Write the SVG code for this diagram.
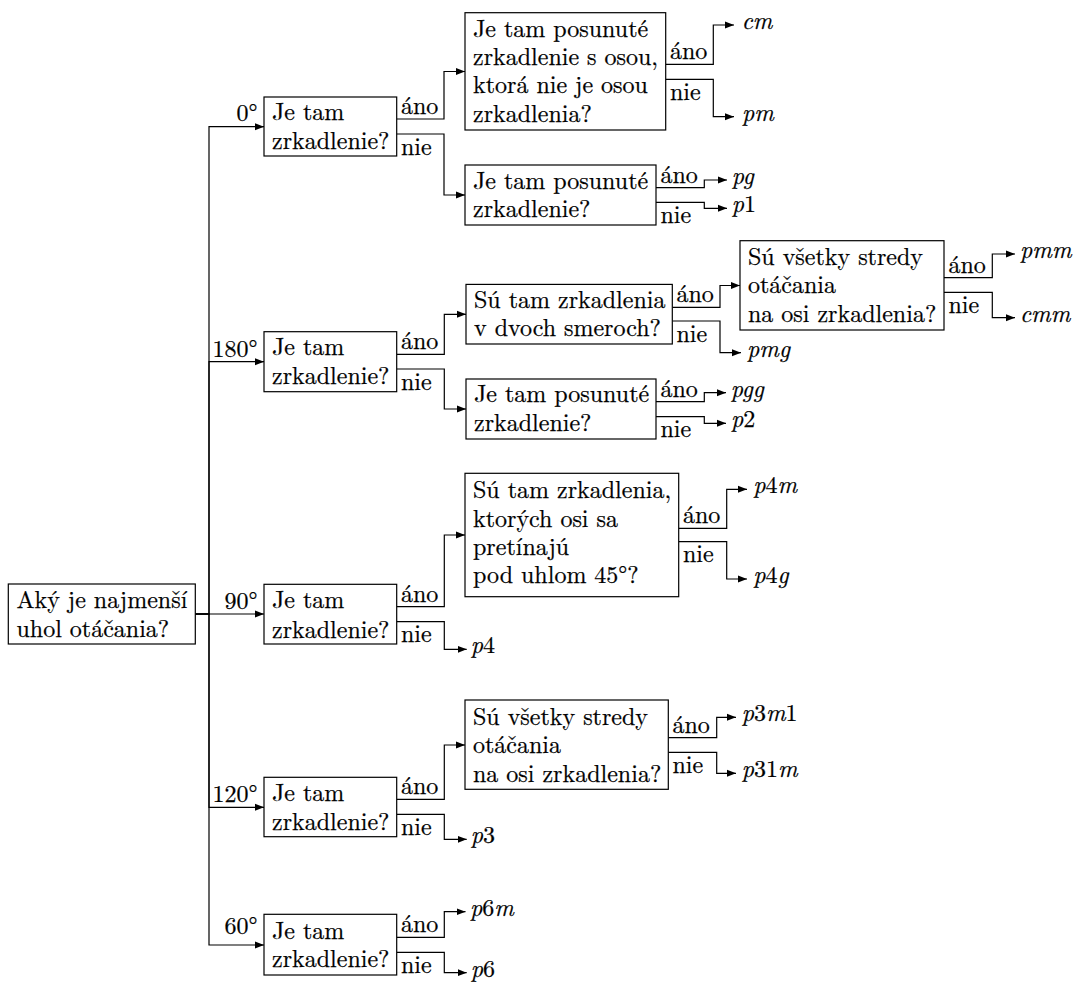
<svg xmlns="http://www.w3.org/2000/svg" width="1075" height="988" viewBox="0 0 1075 988" font-family="Latin Modern Roman, Liberation Serif, serif" font-size="24">
<style>
.box{fill:#fff;stroke:#000;stroke-width:1.2}
text{fill:#000;stroke:#000;stroke-width:0.25}
.ang{text-anchor:end}
.res{font-style:italic}
.up{font-style:normal}
.c{fill:none;stroke:#000;stroke-width:1.2;marker-end:url(#ah)}
</style>
<defs>
<marker id="ah" markerWidth="9" markerHeight="8" refX="9" refY="4" orient="auto" markerUnits="userSpaceOnUse"><path d="M0,0.5 L9,4 L0,7.5 z" fill="#000"/></marker>
</defs>
<rect width="1075" height="988" fill="#fff"/>
<g id="connectors">
<path class="c" d="M195.3,614 H209 V126.7 H264"/>
<path class="c" d="M195.3,614 H209 V361.7 H264"/>
<path class="c" d="M195.3,614 H264"/>
<path class="c" d="M195.3,614 H209 V807.3 H264"/>
<path class="c" d="M195.3,614 H209 V945 H264"/>
<path class="c" d="M396.7,119 H444 V71.5 H465"/>
<path class="c" d="M396.7,134 H444 V195 H465"/>
<path class="c" d="M665.7,64.3 H713.3 V25 H734"/>
<path class="c" d="M665.7,79.3 H713.3 V116.7 H734"/>
<path class="c" d="M656,187.7 H704.3 V180 H727"/>
<path class="c" d="M656,202.3 H704.3 V208.3 H727"/>
<path class="c" d="M396.7,354.3 H444.3 V314.3 H466"/>
<path class="c" d="M396.7,369 H444.3 V409 H466"/>
<path class="c" d="M672.3,307.3 H720 V285.5 H740"/>
<path class="c" d="M672.3,321 H720 V352.7 H741"/>
<path class="c" d="M944,277.7 H992.3 V254 H1015"/>
<path class="c" d="M944,292.3 H992.3 V317.7 H1015"/>
<path class="c" d="M656,401.7 H704.3 V392.7 H726"/>
<path class="c" d="M656,416.7 H704.3 V423.3 H726"/>
<path class="c" d="M396.7,606.7 H444.3 V535 H465"/>
<path class="c" d="M396.7,621.7 H444.3 V649.3 H466.7"/>
<path class="c" d="M678.7,528.3 H726.7 V489.3 H747"/>
<path class="c" d="M678.7,541.7 H726.7 V579 H747"/>
<path class="c" d="M396.7,799.3 H444.3 V745 H465"/>
<path class="c" d="M396.7,814.3 H444.3 V839.3 H466.7"/>
<path class="c" d="M668.3,737.7 H716.7 V717.3 H736"/>
<path class="c" d="M668.3,752.3 H716.7 V773.3 H736"/>
<path class="c" d="M396.7,937.3 H444.3 V911.7 H465.5"/>
<path class="c" d="M396.7,952.3 H444.3 V972.7 H466.7"/>
<text class="ang" x="257.5" y="120.5">0°</text>
<text class="ang" x="257.5" y="357">180°</text>
<text class="ang" x="257.5" y="609">90°</text>
<text class="ang" x="257.5" y="801.5">120°</text>
<text class="ang" x="257.5" y="934">60°</text>
<text x="401" y="114">áno</text><text x="401" y="154.5">nie</text>
<text x="670" y="59">áno</text><text x="670" y="99.5">nie</text>
<text x="660.5" y="182.7">áno</text><text x="660.5" y="222.5">nie</text>
<text x="401" y="349.3">áno</text><text x="401" y="389.5">nie</text>
<text x="676.5" y="302.3">áno</text><text x="676.5" y="341.5">nie</text>
<text x="660.5" y="396.7">áno</text><text x="660.5" y="437">nie</text>
<text x="948.5" y="272.7">áno</text><text x="948.5" y="312.5">nie</text>
<text x="401" y="601.7">áno</text><text x="401" y="642">nie</text>
<text x="683" y="523.3">áno</text><text x="683" y="562">nie</text>
<text x="401" y="794.3">áno</text><text x="401" y="834.5">nie</text>
<text x="672.5" y="732.7">áno</text><text x="672.5" y="772.5">nie</text>
<text x="401" y="932.3">áno</text><text x="401" y="972.5">nie</text>
</g>
<g id="root">
<rect class="box" x="8.3" y="584" width="187" height="60"/>
<text x="16.5" y="608.3">Aký je najmenší</text>
<text x="16.5" y="637.3">uhol otáčania?</text>
</g>
<g id="q0">
<rect class="box" x="264" y="97" width="132.7" height="59"/>
<text x="272" y="120">Je tam</text>
<text x="272" y="148.5">zrkadlenie?</text>
</g>
<g id="q0a">
<rect class="box" x="465" y="12.7" width="200.7" height="117.3"/>
<text x="473" y="36.7">Je tam posunuté</text>
<text x="473" y="65">zrkadlenie s osou,</text>
<text x="473" y="93.3">ktorá nie je osou</text>
<text x="473" y="121.7">zrkadlenia?</text>
</g>
<g id="q0b">
<rect class="box" x="465" y="165" width="191" height="60"/>
<text x="473" y="189.3">Je tam posunuté</text>
<text x="473" y="217">zrkadlenie?</text>
</g>
<g id="q180">
<rect class="box" x="264" y="331.7" width="132.7" height="60"/>
<text x="272" y="355">Je tam</text>
<text x="272" y="383.5">zrkadlenie?</text>
</g>
<g id="q180a">
<rect class="box" x="466" y="284.4" width="206.3" height="59.6"/>
<text x="474" y="307.5">Sú tam zrkadlenia</text>
<text x="474" y="335.5">v dvoch smeroch?</text>
</g>
<g id="q180aa">
<rect class="box" x="740" y="240.7" width="204" height="89.3"/>
<text x="748" y="265">Sú všetky stredy</text>
<text x="748" y="293.3">otáčania</text>
<text x="748" y="321.7">na osi zrkadlenia?</text>
</g>
<g id="q180b">
<rect class="box" x="466" y="379" width="190" height="60"/>
<text x="474" y="402">Je tam posunuté</text>
<text x="474" y="430.5">zrkadlenie?</text>
</g>
<g id="q90">
<rect class="box" x="264" y="584.3" width="132.7" height="59.7"/>
<text x="272" y="608.3">Je tam</text>
<text x="272" y="637.5">zrkadlenie?</text>
</g>
<g id="q90a">
<rect class="box" x="465" y="473.3" width="213.7" height="123.4"/>
<text x="473" y="498.3">Sú tam zrkadlenia,</text>
<text x="473" y="526.7">ktorých osi sa</text>
<text x="473" y="555">pretínajú</text>
<text x="473" y="583.3">pod uhlom 45°?</text>
</g>
<g id="q120">
<rect class="box" x="264" y="777.3" width="132.7" height="59.4"/>
<text x="272" y="800.7">Je tam</text>
<text x="272" y="829.5">zrkadlenie?</text>
</g>
<g id="q120a">
<rect class="box" x="465" y="700" width="203.3" height="89.3"/>
<text x="473" y="725">Sú všetky stredy</text>
<text x="473" y="753.3">otáčania</text>
<text x="473" y="781.7">na osi zrkadlenia?</text>
</g>
<g id="q60">
<rect class="box" x="264" y="914.3" width="132.7" height="60.7"/>
<text x="272" y="939">Je tam</text>
<text x="272" y="967">zrkadlenie?</text>
</g>
<g id="results">
<text class="res" x="741.7" y="29">cm</text>
<text class="res" x="742" y="120.7">pm</text>
<text class="res" x="731.7" y="184">pg</text>
<text class="res" x="731.7" y="212.3">p<tspan class="up">1</tspan></text>
<text class="res" x="1020" y="258">pmm</text>
<text class="res" x="1020" y="321.7">cmm</text>
<text class="res" x="747" y="356.7">pmg</text>
<text class="res" x="730.7" y="396.7">pgg</text>
<text class="res" x="731" y="427.3">p<tspan class="up">2</tspan></text>
<text class="res" x="753.3" y="493.3">p<tspan class="up">4</tspan>m</text>
<text class="res" x="753.3" y="583">p<tspan class="up">4</tspan>g</text>
<text class="res" x="470.7" y="653.3">p<tspan class="up">4</tspan></text>
<text class="res" x="741.7" y="721.3">p<tspan class="up">3</tspan>m<tspan class="up">1</tspan></text>
<text class="res" x="741.7" y="777.3">p<tspan class="up">31</tspan>m</text>
<text class="res" x="470.7" y="843.3">p<tspan class="up">3</tspan></text>
<text class="res" x="470" y="915.7">p<tspan class="up">6</tspan>m</text>
<text class="res" x="470.7" y="976.7">p<tspan class="up">6</tspan></text>
</g>
</svg>
